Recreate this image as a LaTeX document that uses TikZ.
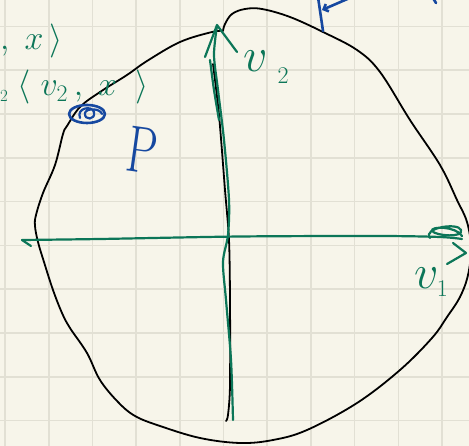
\RequirePackage{fix-cm}
\documentclass[tikz,border=0pt]{standalone}
\usepackage{amsmath}
\usepackage{tikz}
\usetikzlibrary{arrows.meta}
\definecolor{skpaper}{RGB}{247,245,234}
\definecolor{skgrid}{RGB}{226,224,212}
\definecolor{skgreen}{RGB}{12,118,88}
\definecolor{skblue}{RGB}{22,72,160}

\begin{document}
\begin{tikzpicture}[x=1pt,y=-1pt,
  grid/.style={draw=skgrid,line width=1.6pt},
  outline/.style={draw=black,line width=1.8pt,line cap=round,line join=round},
  axis/.style={draw=skgreen,line width=2.2pt,line cap=round,line join=round},
  pen/.style={draw=skblue,line width=2.6pt,line cap=round,line join=round},
  hand/.style={text=skgreen,inner sep=0pt,anchor=base west}]

\path[use as bounding box] (0,0) rectangle (469,446);
\clip (0,0) rectangle (469,446);
\fill[skpaper] (0,0) rectangle (469,446);
\foreach \gx in {0,...,10}
  \draw[grid] (5+43.7*\gx,0) -- ++(0,446);
\foreach \gy in {0,...,9}
  \draw[grid] (0,26.5+43.8*\gy) -- ++(469,0);

% the black region
\draw[outline] plot[smooth,tension=0.6] coordinates {(223,31) (212,32) (180,42) (147,61) (127,75) (100,92)
  (80,107) (67,126) (63,134) (55,165) (43,193) (36,215) (35,226) (38,242) (44,262) (53,290) (62,313)
  (70,328) (87,353) (100,380) (118,402) (135,416) (160,426) (200,438) (240,443) (273,440) (307,430)
  (357,403) (400,370) (432,338) (447,317) (460,297) (468,275) (471,248) (467,222) (457,200) (440,165)
  (410,120) (380,72) (357,50) (323,32) (290,17) (262,9) (245,9) (232,14) (225,24) (223,31)};
\draw[outline] plot[smooth] coordinates {(213,64) (219,115) (225,190) (229,240) (230,300) (230,385) (228,415) (226,421)};

% axes v1, v2
\draw[axis] plot[smooth] coordinates {(233,420) (231,360) (226,300) (223,262) (228,235) (229,200) (224,140) (218,90) (214,55) (217,26)};
\draw[axis] plot[smooth] coordinates {(210,60) (214,90) (219,120)};
\draw[axis] (205,57) -- (217,25) -- (237,52);
\draw[axis] plot[smooth] coordinates {(22,240) (100,239) (240,236.5) (380,236) (440,237) (462,239)};
\draw[axis] (31,246) -- (22,240);
\draw[axis] (430,238) .. controls (422,228) and (458,222) .. (461,230)
  .. controls (464,238) and (436,236) .. (432,231) .. controls (430,226) and (456,226) .. (462,236);
\draw[axis] (453,243) -- (466,253) -- (447,264);

\node[hand,font=\fontsize{48}{48}\selectfont] (vone) at (414,289) {$v_{\scriptscriptstyle 1}$};
\node[hand,font=\fontsize{48}{48}\selectfont] (vtwo) at (243,72) {$v\hspace{10pt}\lower12pt\hbox{$\scriptscriptstyle 2$}$};
\node[hand,font=\fontsize{34}{34}\selectfont] (innerone) at (0,50) {$,\; x\,\rangle$};
\node[hand,font=\fontsize{34}{34}\selectfont] (innertwo) at (0,96)
  {${}_{\scriptscriptstyle 2}\;\langle\;v_{\scriptstyle 2}\,,\; x\;\;\rangle$};

% blue marks
\draw[pen] (87,114) ellipse [x radius=18,y radius=9];
\draw[pen,line width=2.2pt] (80,118) .. controls (76,108) and (92,105) .. (94,112)
  .. controls (96,120) and (84,121) .. (85,113) .. controls (86,108) and (100,108) .. (102,114);
\node[text=skblue,font=\fontsize{66}{66}\selectfont,inner sep=0pt,anchor=base west,rotate=-8] (pmark) at (124,170) {\scalebox{0.72}[1]{P}};
\draw[pen] (318,-3) -- (323,31);
\draw[pen,-{Straight Barb[length=4pt]}] (352,-3) -- (322,10);
\draw[pen] (433,-2) -- (436,3);

\end{tikzpicture}
\end{document}
